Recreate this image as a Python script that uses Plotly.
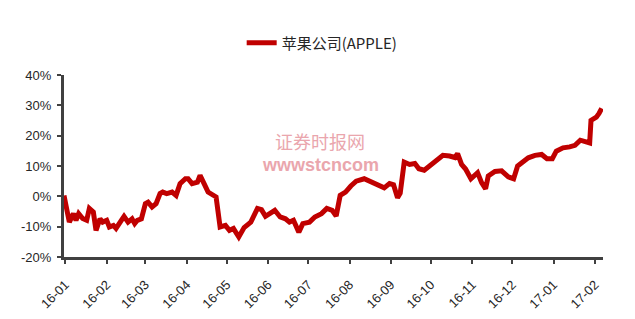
import plotly.graph_objects as go

series_name = "苹果公司(APPLE)"

dates = [
    "2015-12-31", "2016-01-04", "2016-01-07", "2016-01-09", "2016-01-11", "2016-01-14",
    "2016-01-17", "2016-01-19", "2016-01-22", "2016-01-24", "2016-01-27", "2016-01-29",
    "2016-02-01", "2016-02-03", "2016-02-06", "2016-02-08", "2016-02-12", "2016-02-14",
    "2016-02-17", "2016-02-20", "2016-02-22", "2016-02-24", "2016-02-27", "2016-03-01",
    "2016-03-03", "2016-03-06", "2016-03-09", "2016-03-12", "2016-03-14", "2016-03-17",
    "2016-03-21", "2016-03-24", "2016-03-27", "2016-03-31", "2016-04-02", "2016-04-05",
    "2016-04-09", "2016-04-11", "2016-04-14", "2016-04-17", "2016-04-23", "2016-04-26",
    "2016-04-30", "2016-05-03", "2016-05-06", "2016-05-10", "2016-05-14", "2016-05-19",
    "2016-05-24", "2016-05-27", "2016-05-30", "2016-06-03", "2016-06-06", "2016-06-10",
    "2016-06-14", "2016-06-17", "2016-06-20", "2016-06-24", "2016-06-27", "2016-07-02",
    "2016-07-06", "2016-07-11", "2016-07-15", "2016-07-19", "2016-07-22", "2016-07-25",
    "2016-07-29", "2016-08-02", "2016-08-06", "2016-08-12", "2016-08-17", "2016-08-24",
    "2016-08-27", "2016-08-31", "2016-09-03", "2016-09-06", "2016-09-08", "2016-09-11",
    "2016-09-15", "2016-09-19", "2016-09-22", "2016-09-26", "2016-09-30", "2016-10-05",
    "2016-10-10", "2016-10-15", "2016-10-19", "2016-10-21", "2016-10-24", "2016-10-27",
    "2016-10-31", "2016-11-05", "2016-11-08", "2016-11-11", "2016-11-13", "2016-11-18",
    "2016-11-23", "2016-11-28", "2016-12-02", "2016-12-05", "2016-12-09", "2016-12-13",
    "2016-12-18", "2016-12-23", "2016-12-27", "2016-12-31", "2017-01-03", "2017-01-08",
    "2017-01-13", "2017-01-17", "2017-01-21", "2017-01-26", "2017-01-28", "2017-01-29",
    "2017-02-02", "2017-02-04", "2017-02-06",
]

returns_pct = [
    0.3, -8.5, -5.7, -7.9, -5.7, -7.3,
    -7.9, -4.0, -5.2, -11.2, -7.4, -8.5,
    -7.9, -10.1, -9.6, -10.6, -7.9, -6.6,
    -8.5, -7.4, -9.0, -7.9, -7.4, -2.4,
    -1.9, -3.5, -2.4, 0.9, 1.4, 0.9,
    1.4, 0.3, 4.2, 5.8, 5.8, 4.2,
    4.7, 6.9, 4.2, 1.4, -0.2, -10.1,
    -9.6, -11.2, -10.6, -13.4, -10.3, -8.5,
    -4.0, -4.4, -6.6, -5.7, -4.6, -6.8,
    -7.4, -8.5, -7.9, -11.8, -9.0, -8.5,
    -6.8, -5.7, -4.0, -4.6, -6.5, 0.3,
    1.4, 3.4, 5.0, 5.8, 4.7, 3.6,
    2.8, 4.2, 3.8, -0.5, 1.0, 11.3,
    10.5, 10.8, 9.1, 8.6, 10.0, 11.5,
    13.5, 13.3, 12.8, 14.1, 10.5, 9.0,
    5.8, 7.8, 4.5, 2.5, 6.7, 8.2,
    8.4, 6.4, 5.8, 10.0, 11.3, 12.7,
    13.5, 13.8, 12.4, 12.4, 14.9, 16.0,
    16.3, 16.8, 18.5, 17.6, 17.6, 25.0,
    26.1, 27.3, 29.0,
]

y_tick_vals = [-20, -10, 0, 10, 20, 30, 40]
y_tick_text = ["-20%", "-10%", "0%", "10%", "20%", "30%", "40%"]

watermark_cn = "证券时报网"
watermark_en = "wwwstcncom"

fig = go.Figure()
fig.add_trace(go.Scatter(
    x=dates, y=returns_pct, mode="lines", name=series_name,
    line=dict(color="#c00000", width=5),
    showlegend=True,
))

axis_color = "#404040"
tick_font = dict(family="Liberation Sans, Arial, sans-serif", size=13, color="#262626")

fig.update_layout(
    width=635, height=319,
    margin=dict(l=64, r=32, t=75, b=62),
    paper_bgcolor="white", plot_bgcolor="white",
    showlegend=True,
    legend=dict(
        orientation="h", x=0.479, y=1.176, xanchor="center", yanchor="middle",
        font=dict(family="Noto Sans CJK SC, Liberation Sans, sans-serif", size=15, color="#262626"),
        bgcolor="rgba(0,0,0,0)",
    ),
    xaxis=dict(
        type="date",
        range=["2015-12-31", "2017-02-07"],
        tick0="2016-01-01", dtick="M1", tickformat="%y-%m",
        tickangle=-45,
        automargin=False,
        showgrid=False, zeroline=False,
        showline=True, linecolor=axis_color, linewidth=3,
        ticks="outside", ticklen=4, tickwidth=2, tickcolor=axis_color,
        ticklabelstandoff=8,
        tickfont=tick_font,
    ),
    yaxis=dict(
        range=[-20, 40],
        tickvals=y_tick_vals, ticktext=y_tick_text,
        automargin=False,
        showgrid=False, zeroline=False,
        showline=True, linecolor=axis_color, linewidth=3,
        ticks="outside", ticklen=4, tickwidth=2, tickcolor=axis_color,
        ticklabelstandoff=3,
        tickfont=tick_font,
    ),
    annotations=[
        dict(text=watermark_cn, xref="paper", yref="paper", x=0.475, y=0.64,
             xanchor="center", yanchor="middle", showarrow=False,
             font=dict(family="Noto Sans CJK SC, sans-serif", size=18, color="#eaa6ad")),
        dict(text="<b>" + watermark_en + "</b>", xref="paper", yref="paper", x=0.475, y=0.505,
             xanchor="center", yanchor="middle", showarrow=False,
             font=dict(family="Liberation Sans, Arial, sans-serif", size=18, color="#eaa6ad")),
    ],
)

fig.write_html("out.html")
